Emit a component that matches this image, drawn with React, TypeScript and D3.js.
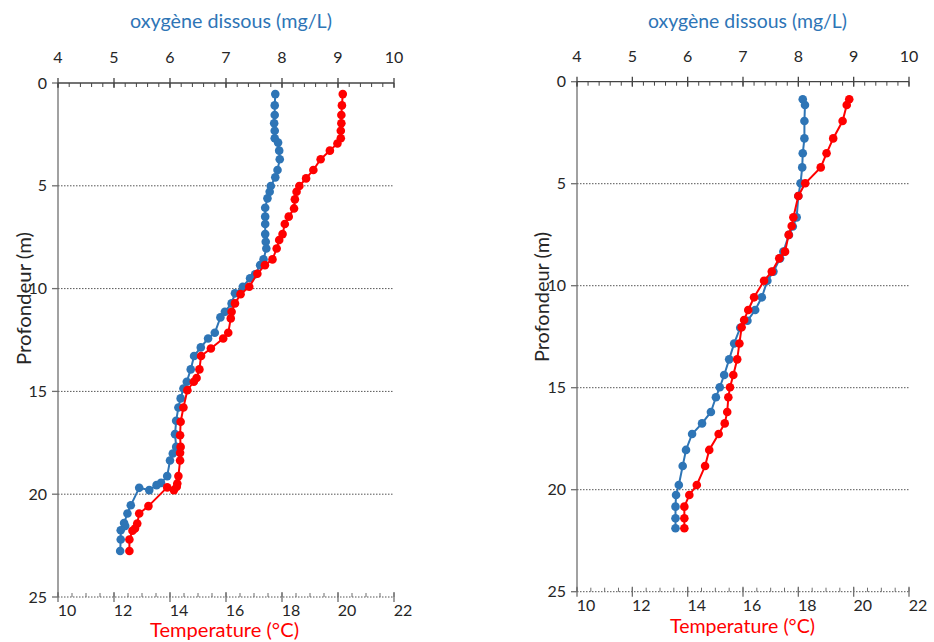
import React from "react";
import * as d3 from "d3";

// ---------- DATA ----------
const oxygenTicks = [4, 5, 6, 7, 8, 9, 10];
const tempTicks = [10, 12, 14, 16, 18, 20, 22];
const depthTicks = [0, 5, 10, 15, 20, 25];

// Left profile — dissolved oxygen (mg/L)
const leftOxyDepth = [0.54, 1.09, 1.56, 1.96, 2.32, 2.69, 2.9, 3.29, 3.71, 4.23, 4.59, 5.01, 5.29, 5.61, 6.07, 6.5, 6.86, 7.35, 7.72, 8.05, 8.58, 8.86, 9.3, 9.5, 9.91, 10.23, 10.72, 11.13, 11.4, 12.15, 12.43, 12.86, 13.28, 13.93, 14.53, 14.86, 15.34, 15.78, 16.43, 17.08, 17.7, 18.02, 18.36, 19.12, 19.45, 19.56, 19.8, 19.69, 20.54, 20.94, 21.4, 21.55, 21.75, 22.2, 22.76];
const leftOxy = [7.88, 7.87, 7.87, 7.86, 7.87, 7.87, 7.93, 7.95, 7.96, 7.92, 7.88, 7.8, 7.78, 7.74, 7.7, 7.7, 7.7, 7.7, 7.71, 7.72, 7.67, 7.61, 7.52, 7.43, 7.3, 7.16, 7.1, 6.98, 6.9, 6.8, 6.68, 6.55, 6.43, 6.37, 6.3, 6.24, 6.19, 6.15, 6.11, 6.09, 6.11, 6.05, 6.0, 5.95, 5.84, 5.76, 5.63, 5.45, 5.3, 5.24, 5.18, 5.2, 5.12, 5.12, 5.11];

// Left profile — temperature (°C)
const leftTempDepth = [0.54, 1.09, 1.56, 1.96, 2.32, 2.69, 2.94, 3.29, 3.71, 4.23, 4.64, 5.01, 5.29, 5.66, 6.1, 6.5, 6.86, 7.35, 7.64, 8.05, 8.58, 8.86, 9.28, 9.91, 10.27, 10.72, 11.13, 11.45, 12.15, 12.43, 12.91, 13.28, 13.93, 14.35, 14.53, 14.94, 15.78, 16.48, 17.13, 17.7, 17.99, 18.36, 19.12, 19.48, 19.64, 19.8, 19.67, 20.58, 20.94, 21.43, 21.67, 21.78, 22.2, 22.76];
const leftTemp = [20.17, 20.14, 20.12, 20.12, 20.1, 20.1, 19.98, 19.71, 19.38, 19.12, 18.86, 18.62, 18.52, 18.46, 18.43, 18.24, 18.1, 18.02, 17.9, 17.81, 17.66, 17.39, 17.12, 16.83, 16.52, 16.32, 16.2, 16.17, 16.08, 15.9, 15.46, 15.11, 15.05, 14.95, 14.85, 14.62, 14.48, 14.38, 14.36, 14.38, 14.36, 14.36, 14.3, 14.26, 14.24, 14.14, 13.9, 13.23, 12.9, 12.83, 12.75, 12.66, 12.55, 12.55];

// Right profile — dissolved oxygen (mg/L)
const rightOxyDepth = [0.86, 1.14, 1.93, 2.78, 3.51, 4.2, 4.98, 5.6, 6.65, 7.1, 7.51, 8.33, 8.66, 9.31, 9.76, 10.57, 11.19, 11.72, 12.06, 12.83, 13.61, 14.38, 14.98, 15.47, 16.19, 16.75, 17.27, 18.05, 18.84, 19.77, 20.26, 20.83, 21.4, 21.89];
const rightOxy = [8.08, 8.12, 8.11, 8.11, 8.08, 8.07, 8.04, 8.0, 7.97, 7.9, 7.83, 7.73, 7.67, 7.55, 7.44, 7.34, 7.22, 7.08, 6.95, 6.84, 6.75, 6.66, 6.58, 6.51, 6.42, 6.26, 6.08, 5.97, 5.91, 5.84, 5.79, 5.78, 5.78, 5.78];

// Right profile — temperature (°C)
const rightTempDepth = [0.86, 1.14, 1.93, 2.78, 3.51, 4.2, 4.98, 5.6, 6.65, 7.07, 7.51, 8.33, 8.66, 9.31, 9.76, 10.57, 11.19, 11.68, 12.04, 12.83, 13.61, 14.38, 14.98, 15.47, 16.19, 16.75, 17.27, 18.05, 18.84, 19.77, 20.26, 20.83, 21.4, 21.89];
const rightTemp = [19.84, 19.75, 19.6, 19.26, 19.02, 18.81, 18.25, 18.0, 17.82, 17.76, 17.65, 17.52, 17.31, 17.04, 16.76, 16.4, 16.19, 16.04, 15.95, 15.87, 15.79, 15.65, 15.53, 15.47, 15.43, 15.34, 15.12, 14.78, 14.63, 14.33, 14.06, 13.88, 13.88, 13.88];

const oxyTitle = "oxygène dissous (mg/L)";
const tempTitle = "Temperature (°C)";
const depthTitle = "Profondeur (m)";

// ---------- STYLE ----------
const BLUE = "#2E75B6";
const RED = "#FF0000";
const AXIS = "#6f6f6f";
const TEXT = "#262626";
const FONT = "Lato, 'Open Sans', sans-serif";

type PanelProps = {
  x0: number; x1: number; y0: number; y1: number;
  yLabelX: number; yLabelY: number; yLabelLen: number;
  titleX: number; titleLen: number;
  tLabelX: number; tLabelY: number; tLabelLen: number;
  oxyD: number[]; oxy: number[];
  tempD: number[]; temp: number[];
};

function Panel(p: PanelProps) {
  const { x0, x1, y0, y1, oxyD, oxy, tempD, temp } = p;
  const xO = d3.scaleLinear().domain([4, 10]).range([x0, x1]);
  const xT = d3.scaleLinear().domain([10, 22]).range([x0, x1]);
  const y = d3.scaleLinear().domain([0, 25]).range([y0, y1]);

  const oxyPts: [number, number][] = oxy.map((v, i) => [xO(v), y(oxyD[i])]);
  const tempPts: [number, number][] = temp.map((v, i) => [xT(v), y(tempD[i])]);
  const line = d3.line();

  const minorO = d3.range(4, 10.001, 0.2);
  const minorT = d3.range(10, 22.001, 0.5);

  return (
    <g>
      {/* gridlines */}
      {[5, 10, 15, 20, 25].map((d) => (
        <line key={"g" + d} x1={x0} x2={x1} y1={y(d)} y2={y(d)} stroke="#555" strokeWidth={1} strokeDasharray="1.5,1.5" />
      ))}
      {/* left axis */}
      <line x1={x0} x2={x0} y1={y0} y2={y1} stroke={AXIS} strokeWidth={1.3} />
      {depthTicks.map((d) => (
        <g key={"dt" + d}>
          <line x1={x0 - 6} x2={x0} y1={y(d)} y2={y(d)} stroke={AXIS} strokeWidth={1.3} />
          <text x={x0 - 11} y={y(d)} dy="0.35em" textAnchor="end" fontSize={16} fill={TEXT} fontFamily={FONT}>{d}</text>
        </g>
      ))}
      {/* top axis (oxygen) */}
      <line x1={x0} x2={x1} y1={y0} y2={y0} stroke="#444" strokeWidth={1.3} />
      {minorO.map((v, i) => (
        <line key={"mo" + i} x1={xO(v)} x2={xO(v)} y1={y0} y2={y0 + 4} stroke="#444" strokeWidth={1} />
      ))}
      {oxygenTicks.map((v) => (
        <g key={"ot" + v}>
          <line x1={xO(v)} x2={xO(v)} y1={y0 - 5} y2={y0 + 5} stroke="#444" strokeWidth={1.3} />
          <text x={xO(v)} y={y0 - 20} textAnchor="middle" fontSize={16} fill={TEXT} fontFamily={FONT}>{v}</text>
        </g>
      ))}
      <text x={p.titleX} y={28} textAnchor="middle" fontSize={19.5} fill={BLUE} fontFamily={FONT}
        textLength={p.titleLen} lengthAdjust="spacingAndGlyphs">{oxyTitle}</text>
      {/* bottom axis (temperature) */}
      {minorT.map((v, i) => (
        <line key={"mt" + i} x1={xT(v)} x2={xT(v)} y1={y1 - 4} y2={y1} stroke={AXIS} strokeWidth={1} />
      ))}
      {tempTicks.map((v) => (
        <g key={"tt" + v}>
          <line x1={xT(v)} x2={xT(v)} y1={y1 - 5} y2={y1 + 5} stroke={AXIS} strokeWidth={1.3} />
          <text x={xT(v) + 9} y={y1 + 19} textAnchor="middle" fontSize={16} fill={TEXT} fontFamily={FONT}>{v}</text>
        </g>
      ))}
      <text x={p.tLabelX} y={p.tLabelY} textAnchor="middle" fontSize={19.5} fill={RED} fontFamily={FONT}
        textLength={p.tLabelLen} lengthAdjust="spacingAndGlyphs">{tempTitle}</text>
      <text transform={`translate(${p.yLabelX},${p.yLabelY}) rotate(-90)`} textAnchor="middle" fontSize={19.5} fill={TEXT} fontFamily={FONT}
        textLength={p.yLabelLen} lengthAdjust="spacingAndGlyphs">{depthTitle}</text>
      {/* series */}
      <path d={line(oxyPts) || ""} fill="none" stroke={BLUE} strokeWidth={2} />
      {oxyPts.map((pt, i) => (
        <circle key={"bo" + i} cx={pt[0]} cy={pt[1]} r={4.3} fill={BLUE} />
      ))}
      <path d={line(tempPts) || ""} fill="none" stroke={RED} strokeWidth={2} />
      {tempPts.map((pt, i) => (
        <circle key={"rt" + i} cx={pt[0]} cy={pt[1]} r={4.3} fill={RED} />
      ))}
    </g>
  );
}

export default function App() {
  return (
    <svg width={934} height={642} style={{ position: "absolute", left: 0, top: 0, background: "#fff" }}>
      <rect width={934} height={642} fill="#fff" />
      <Panel x0={58} x1={394} y0={83} y1={597}
        yLabelX={31} yLabelY={298.5} yLabelLen={133}
        titleX={231} titleLen={202}
        tLabelX={224.5} tLabelY={637} tLabelLen={149}
        oxyD={leftOxyDepth} oxy={leftOxy} tempD={leftTempDepth} temp={leftTemp} />
      <Panel x0={577} x1={909} y0={81.7} y1={591.7}
        yLabelX={549} yLabelY={297} yLabelLen={130}
        titleX={747.5} titleLen={199}
        tLabelX={742.5} tLabelY={633} tLabelLen={145}
        oxyD={rightOxyDepth} oxy={rightOxy} tempD={rightTempDepth} temp={rightTemp} />
    </svg>
  );
}
